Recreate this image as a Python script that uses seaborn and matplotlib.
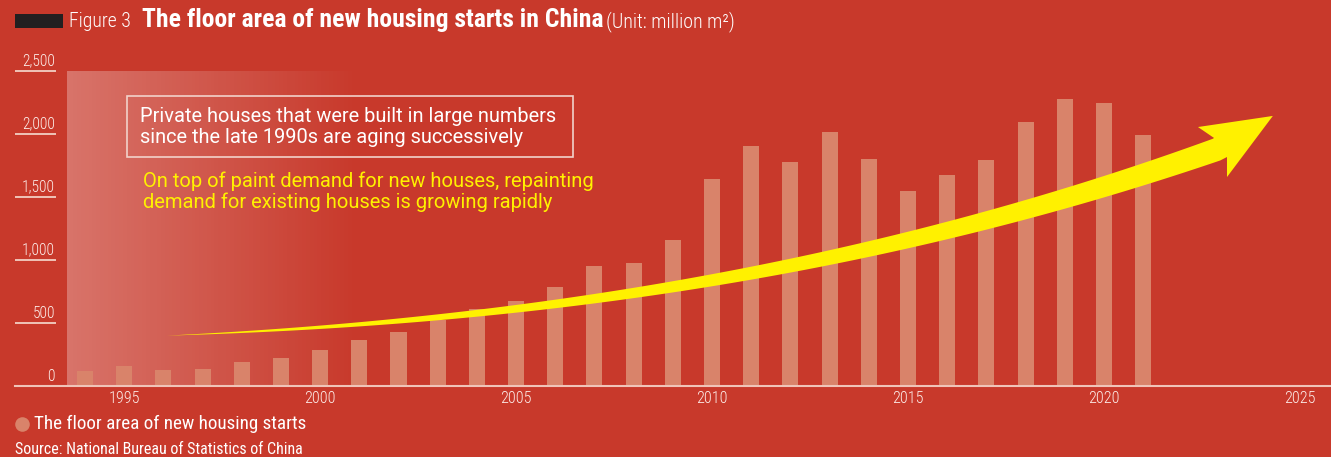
import os
import matplotlib
matplotlib.use("Agg")
import numpy as np
import pandas as pd
import matplotlib.pyplot as plt
import seaborn as sns
from matplotlib import font_manager as fm
from matplotlib.font_manager import FontProperties
from matplotlib.patches import Polygon, Rectangle
from matplotlib.lines import Line2D

# ---------------- data ----------------
years = list(range(1994, 2022))
floor_area = [117, 156, 125, 133, 188, 220, 283, 363, 426, 521,
              609, 672, 783, 950, 974, 1156, 1640, 1902, 1775, 2013,
              1799, 1545, 1672, 1791, 2093, 2275, 2244, 1990]
y_ticks = [0, 500, 1000, 1500, 2000, 2500]
x_ticks = [1995, 2000, 2005, 2010, 2015, 2020, 2025]
series_label = "The floor area of new housing starts"
fig_label = "Figure 3"
title_text = "The floor area of new housing starts in China"
unit_text = "(Unit: million m\u00b2)"
box_lines = ["Private houses that were built in large numbers",
             "since the late 1990s are aging successively"]
yellow_lines = ["On top of paint demand for new houses, repainting",
                "demand for existing houses is growing rapidly"]
source_text = "Source: National Bureau of Statistics of China"

# ---------------- style ----------------
BG = "#c8392b"
BAR = "#d9836a"
AXIS = "#f0c4b8"
TICK = "#fdeeea"
YELLOW = "#fff100"
WHITE = "#ffffff"

sns.set_style("white", rc={"axes.facecolor": BG, "figure.facecolor": BG})
plt.rcParams["font.family"] = ["Liberation Sans", "DejaVu Sans"]


def pick_narrow(target):
    """Find an installed condensed / narrow font file closest to a weight."""
    pref = ["liberationsansnarrow", "robotocondensed", "notosans",
            "dejavusans", "opensans", "lato"]
    best = None
    for f in fm.fontManager.ttflist:
        fn = os.path.basename(f.fname).lower()
        flat = fn.replace("-", "").replace("_", "")
        if any(k in fn for k in ("italic", "oblique", "mono", "serif", "cjk",
                                 "semicondensed", "extracondensed",
                                 "ultracondensed")):
            continue
        if not ("narrow" in fn or "condensed" in fn):
            continue
        w = f.weight if isinstance(f.weight, int) else fm.weight_dict.get(f.weight, 400)
        rank = next((i for i, p in enumerate(pref) if flat.startswith(p)), len(pref))
        key = (rank, abs(w - target))
        if best is None or key < best[0]:
            best = (key, f.fname)
    if best is None:
        return FontProperties(family=["Liberation Sans", "DejaVu Sans"],
                              weight="bold" if target >= 600 else "normal")
    return FontProperties(fname=best[1])


NARROW_L = pick_narrow(300)
NARROW = pick_narrow(400)
NARROW_B = pick_narrow(700)
SANS = FontProperties(family=["Roboto", "DejaVu Sans"])

W, H = 1331, 457
fig = plt.figure(figsize=(W / 100, H / 100), dpi=100)


def fig_px(x, y):
    return (x / W, 1 - y / H)


ax = fig.add_axes([15 / W, (H - 385.7) / H, 1316 / W, 315 / H])
ax.set_facecolor(BG)

df = pd.DataFrame({"year": years, "area": floor_area})
sns.barplot(data=df, x="year", y="area", native_scale=True, width=0.41,
            color=BAR, saturation=1, linewidth=0, ax=ax, zorder=2)

# light gradient panel at the left
n = 256
grad = np.ones((1, n, 4))
grad[0, :, 3] = np.linspace(0.30, 0.0, n)
ax.imshow(grad, extent=[1993.54, 2001.0, 0, 2500], aspect="auto",
          zorder=0.5, interpolation="bilinear")

ax.set_xlim(1992.214, 2025.794)
ax.set_ylim(0, 2500)
for s in ["left", "right", "top"]:
    ax.spines[s].set_visible(False)
ax.spines["bottom"].set_color(AXIS)
ax.spines["bottom"].set_linewidth(1.5)
ax.spines["bottom"].set_zorder(3)
ax.set_xticks(x_ticks)
ax.set_xticklabels([str(t) for t in x_ticks])
ax.tick_params(axis="x", length=0, pad=4, labelcolor=TICK)
for lab in ax.get_xticklabels():
    lab.set_fontproperties(NARROW_L)
    lab.set_fontsize(12)
ax.set_yticks([])
ax.set_xlabel("")
ax.set_ylabel("")

ytr = ax.get_yaxis_transform()
ylabels = []
for v in y_ticks:
    ax.plot([0, 41 / 1316], [v, v], transform=ytr, color=AXIS, lw=1.4,
            clip_on=False, solid_capstyle="butt", zorder=3)
    ylabels.append(ax.annotate(f"{v:,}", xy=(40 / 1316, v), xycoords=ytr,
                               xytext=(0, 3.6), textcoords="offset points",
                               ha="right", va="baseline", fontproperties=NARROW_L,
                               fontsize=11.5, color=TICK, annotation_clip=False))

# annotation box + texts
x0, y0 = fig_px(127, 157)
x1, y1 = fig_px(573, 96)
fig.add_artist(Rectangle((x0, y0), x1 - x0, y1 - y0, transform=fig.transFigure,
                         fill=False, edgecolor="#f2d2ca", lw=1.2, zorder=3))
box_t = [fig.text(*fig_px(140, 121.7), box_lines[0], ha="left", va="baseline",
                  color=WHITE, fontproperties=SANS, fontsize=14.3),
         fig.text(*fig_px(140, 143.3), box_lines[1], ha="left", va="baseline",
                  color=WHITE, fontproperties=SANS, fontsize=14.3)]
yel_t = [fig.text(*fig_px(143, 186.7), yellow_lines[0], ha="left", va="baseline",
                  color=YELLOW, fontproperties=SANS, fontsize=14.3),
         fig.text(*fig_px(143, 208.3), yellow_lines[1], ha="left", va="baseline",
                  color=YELLOW, fontproperties=SANS, fontsize=14.3)]

# ---------------- title ----------------
fig.add_artist(Rectangle((14.5 / W, 1 - 27.5 / H), 48.5 / W, 13.5 / H,
                         transform=fig.transFigure, facecolor="#231f20",
                         edgecolor="none"))
t_fig = fig.text(*fig_px(69, 27.3), fig_label, ha="left", va="baseline",
                 fontproperties=NARROW_L, fontsize=12, color=WHITE)
t_title = fig.text(*fig_px(142, 27.3), title_text, ha="left", va="baseline",
                   fontproperties=NARROW_B, fontsize=17, color=WHITE)
t_unit = fig.text(*fig_px(606, 27.3), unit_text, ha="left", va="baseline",
                  fontproperties=NARROW_L, fontsize=11.5, color=WHITE)

# ---------------- legend + source ----------------
handle = Line2D([], [], marker="o", linestyle="", markersize=10.5,
                markerfacecolor=BAR, markeredgewidth=0)
leg = fig.legend(handles=[handle], labels=[series_label], loc="center left",
                 bbox_to_anchor=(15 / W, (H - 424) / H), frameon=False,
                 handlelength=1.0, handletextpad=0.35, borderpad=0,
                 borderaxespad=0, prop=NARROW, labelcolor=WHITE)
leg_t = leg.get_texts()[0]
leg_t.set_fontsize(14)
t_src = fig.text(*fig_px(15, 454), source_text, ha="left", va="baseline",
                 fontproperties=NARROW, fontsize=11.5, color=WHITE)


# ---------------- fit text sizes to the reference widths ----------------
def fit(texts, target_px, ref=None):
    ref = ref if ref is not None else texts[0]
    for _ in range(2):
        r = fig.canvas.get_renderer()
        wcur = ref.get_window_extent(r).width
        if wcur <= 0:
            return
        s = ref.get_fontsize() * target_px / wcur
        for t in texts:
            t.set_fontsize(s)
        fig.canvas.draw()


fig.canvas.draw()
fit([t_fig], 62)
fit([t_title], 460)
fit([t_unit], 129)
fit(box_t, 418)
fit(yel_t, 450)
fit([leg_t], 272)
fit([t_src], 287)
xl = ax.get_xticklabels()
fit(xl, 31.5, ref=xl[0])
fit(ylabels, 33, ref=ylabels[-1])

# ---------------- curved arrow ----------------
fig.canvas.draw()
center_data = np.array([
    (1996.09, 402), (2001.78, 494), (2008.67, 775), (2010.10, 855),
    (2015.13, 1156), (2020.15, 1589), (2021.18, 1692), (2022.96, 1890)])
head_data = np.array([
    (2022.81, 1966),  # upper notch
    (2022.40, 2053),  # upper back
    (2024.31, 2141),  # tip
    (2023.14, 1656),  # lower back
    (2023.14, 1815),  # lower notch
])
cd = ax.transData.transform(center_data)
coef = np.polyfit(cd[:, 0], cd[:, 1], 3)
xs = np.linspace(cd[0, 0], cd[-1, 0], 300)
ys = np.polyval(coef, xs)
dy = np.polyval(np.polyder(coef), xs)
nx, ny = -dy, np.ones_like(dy)
nl = np.hypot(nx, ny)
nx, ny = nx / nl, ny / nl
w = 11.5 * (xs - xs[0]) / (xs[-1] - xs[0])
upper = np.column_stack([xs + nx * w, ys + ny * w])
lower = np.column_stack([xs - nx * w, ys - ny * w])
hd = ax.transData.transform(head_data)
outline = np.vstack([upper[:-1], hd, lower[:-1][::-1]])
outline_data = ax.transData.inverted().transform(outline)
ax.add_patch(Polygon(outline_data, closed=True, facecolor=YELLOW,
                     edgecolor="none", zorder=5))

fig.savefig("out.png", dpi=100, facecolor=BG)
